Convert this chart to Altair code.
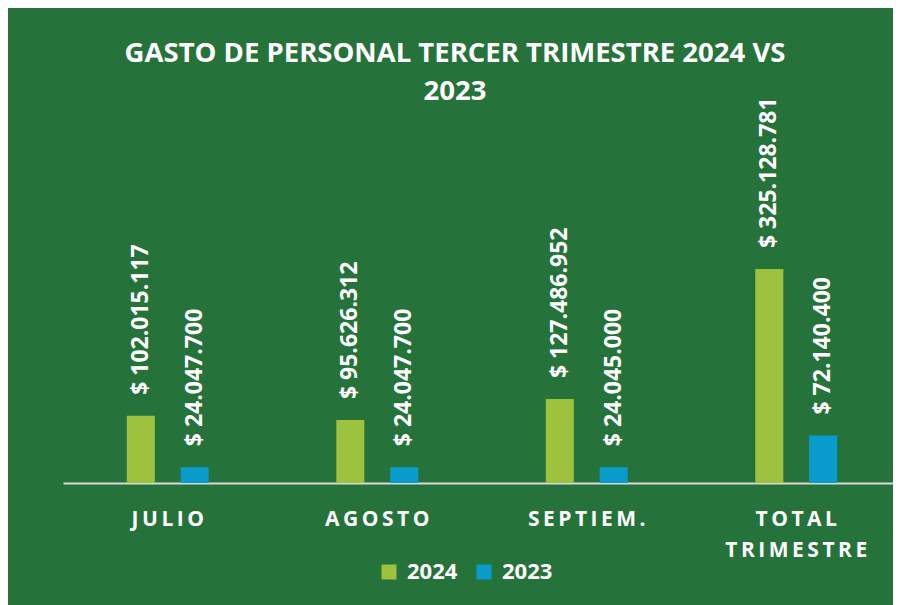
import altair as alt
import pandas as pd

months = ["JULIO", "AGOSTO", "SEPTIEM.", "TOTAL TRIMESTRE"]
values_2024 = [102015117, 95626312, 127486952, 325128781]
values_2023 = [24047700, 24047700, 24045000, 72140400]
series = ["2024", "2023"]
colors = ["#9DC23E", "#0A9BCD"]

rows = []
for m, a, b in zip(months, values_2024, values_2023):
    rows.append({"mes": m, "serie": "2024", "valor": a})
    rows.append({"mes": m, "serie": "2023", "valor": b})
df = pd.DataFrame(rows)
df["etiqueta"] = df["valor"].apply(lambda v: "$ " + f"{v:,}".replace(",", "."))

BG = "#25733A"
FONT = "Open Sans"

x = alt.X("mes:N", sort=months, title=None,
          scale=alt.Scale(paddingInner=0.609, paddingOuter=0.3045, range=[0, 838]),
          axis=alt.Axis(labelAngle=0, domainColor="#D9D9D9", domainWidth=2,
                        ticks=False, labelColor="white", labelFont=FONT,
                        labelFontSize=21, labelFontWeight="bold",
                        labelPadding=25, labelLineHeight=31,
                        labelExpr="split(replace(datum.label, regexp('(\\\\S)(?=\\\\S)', 'g'), '$1\u2009'), ' ')"))
xo = alt.XOffset("serie:N", sort=series,
                 scale=alt.Scale(paddingInner=0.48, paddingOuter=0))
y = alt.Y("valor:Q", axis=None, scale=alt.Scale(domain=[0, 642700000]))

base = alt.Chart(df)

bars = base.mark_bar().encode(
    x=x, xOffset=xo, y=y,
    color=alt.Color("serie:N", sort=series,
                    scale=alt.Scale(domain=series, range=colors),
                    legend=alt.Legend(title=None, orient="none", direction="horizontal",
                                      legendX=315, legendY=501,
                                      symbolType="square", symbolSize=225,
                                      symbolStrokeWidth=0,
                                      labelColor="white", labelFont=FONT,
                                      labelFontSize=22, labelFontWeight="bold",
                                      labelOffset=7, columnPadding=15)),
)

labels = base.mark_text(angle=270, align="left", baseline="middle", dx=21,
                        color="white", font=FONT, fontSize=23,
                        fontWeight="bold").encode(
    x=x, xOffset=xo, y=y, text="etiqueta:N")

chart = (bars + labels).properties(
    width=830, height=423,
    padding={"left": 55, "top": 52, "right": 0, "bottom": 122},
    autosize=alt.AutoSizeParams(type="none"),
    background=BG,
    title=alt.TitleParams(["GASTO DE PERSONAL TERCER TRIMESTRE 2024 VS", "2023"],
                          color="white", font=FONT, fontSize=27.5, fontWeight="bold",
                          anchor="middle", lineHeight=38, dx=-23, dy=49),
).configure_view(stroke=None)

chart.save("out.html", embed_options={"renderer": "svg", "actions": False})
